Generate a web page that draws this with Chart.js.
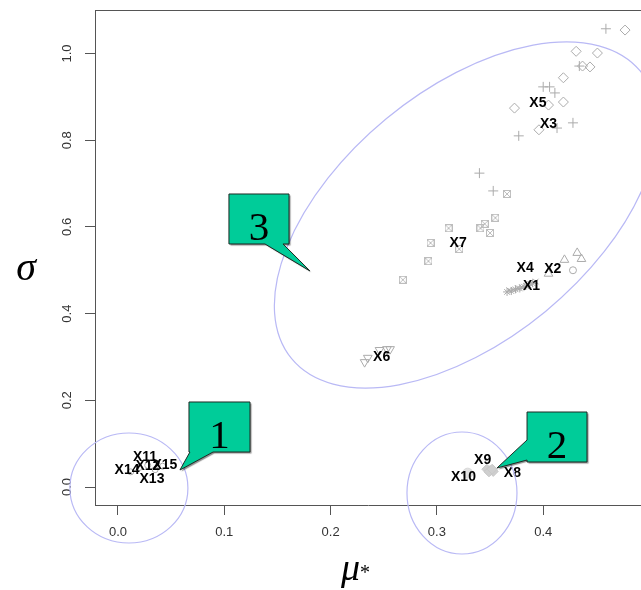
<!DOCTYPE html>
<html><head><meta charset="utf-8">
<script src="https://cdn.jsdelivr.net/npm/chart.js@4.4.1/dist/chart.umd.min.js"></script>
<style>html,body{margin:0;padding:0;background:#fff;overflow:hidden}canvas{display:block}</style>
</head><body>
<canvas id="c" width="641" height="590"></canvas>
<script>
// ---- data (mu*, sigma) ----
const xTicks = [0.0, 0.1, 0.2, 0.3, 0.4];
const yTicks = [0.0, 0.2, 0.4, 0.6, 0.8, 1.0];

const muX5  = [0.477, 0.431, 0.451, 0.437, 0.444, 0.419, 0.419, 0.373, 0.396, 0.405];
const sigX5 = [1.054, 1.005, 1.001, 0.971, 0.969, 0.944, 0.888, 0.874, 0.824, 0.881];

const muX3  = [0.459, 0.434, 0.400, 0.406, 0.411, 0.428, 0.377, 0.413, 0.340, 0.353];
const sigX3 = [1.057, 0.971, 0.923, 0.923, 0.909, 0.840, 0.810, 0.828, 0.724, 0.683];

const muX7  = [0.268, 0.292, 0.294, 0.311, 0.321, 0.341, 0.345, 0.350, 0.355, 0.366];
const sigX7 = [0.478, 0.521, 0.563, 0.597, 0.549, 0.597, 0.607, 0.586, 0.621, 0.676];

const muX1  = [0.366, 0.370, 0.374, 0.378, 0.382, 0.386, 0.390];
const sigX1 = [0.450, 0.452, 0.456, 0.458, 0.462, 0.466, 0.470];

const muX4  = [0.368, 0.372, 0.376, 0.380, 0.384, 0.388, 0.393];
const sigX4 = [0.454, 0.455, 0.459, 0.461, 0.464, 0.468, 0.474];

const muX2  = [0.420, 0.432, 0.436, 0.405];
const sigX2 = [0.524, 0.540, 0.526, 0.492];
const muX2o  = [0.428];
const sigX2o = [0.500];

const muX6  = [0.232, 0.235, 0.246, 0.253, 0.256];
const sigX6 = [0.288, 0.298, 0.316, 0.318, 0.318];

const muX89  = [0.347, 0.350, 0.353, 0.349, 0.352];
const sigX89 = [0.041, 0.038, 0.036, 0.035, 0.041];
const muX10  = [0.329];
const sigX10 = [0.032];

const muLow  = [0.012, 0.020, 0.028, 0.035, 0.042];
const sigLow = [0.035, 0.045, 0.050, 0.040, 0.048];

const labelNames = ['X1','X2','X3','X4','X5','X6','X7','X8','X9','X10','X11','X12','X13','X14','X15'];
const labelMu    = [0.389,0.409,0.405,0.383,0.395,0.248,0.320,0.371,0.343,0.325,0.0254,0.0282,0.032,0.0085,0.0442];
const labelSigma = [0.464,0.503,0.837,0.505,0.886,0.300,0.563,0.032,0.062,0.023,0.0692,0.0484,0.0185,0.0392,0.0507];

// ---- annotations (ellipses and callouts, in data units) ----
const rings = [
  {mu:0.0103, sigma:-0.0023, rx:59, ry:55, rot:0},
  {mu:0.3236, sigma:-0.0138, rx:55, ry:61, rot:0},
  {mu:0.3274, sigma:0.6275, rx:226, ry:125, rot:-39.5}
];
const callouts = [
  {text:'1', x1:0.0668, x2:0.1242, yTop:0.1961, yBot:0.0807, tip:[0.0583,0.0392], side:'bottom', base:[0.0677,0.0894]},
  {text:'2', x1:0.3848, x2:0.4412, yTop:0.1730, yBot:0.0577, tip:[0.3565,0.0438], side:'left', base:[0.1084,0.0623]},
  {text:'3', x1:0.1044, x2:0.1609, yTop:0.6759, yBot:0.5606, tip:[0.1806,0.4983], side:'bottom', base:[0.1383,0.1552]}
];

const pts = (m, s) => m.map((v, i) => ({x: v, y: s[i]}));

function boxX(size, color) {
  const c = document.createElement('canvas');
  c.width = c.height = size;
  const g = c.getContext('2d');
  g.strokeStyle = color; g.lineWidth = 1;
  g.strokeRect(0.5, 0.5, size - 1, size - 1);
  g.beginPath();
  g.moveTo(1, 1); g.lineTo(size - 1, size - 1);
  g.moveTo(size - 1, 1); g.lineTo(1, size - 1);
  g.stroke();
  return c;
}

const G = '#ababab';
const base = {showLine:false, backgroundColor:'rgba(0,0,0,0)', borderColor:G, pointBorderColor:G, pointBackgroundColor:'rgba(0,0,0,0)', pointBorderWidth:1};

const datasets = [
  {...base, label:'X5', data:pts(muX5, sigX5), pointStyle:'rectRot', pointRadius:5},
  {...base, label:'X3', data:pts(muX3, sigX3), pointStyle:'cross', pointRadius:5},
  {...base, label:'X7', data:pts(muX7, sigX7), pointStyle:boxX(8, '#bdbdbd'), pointRadius:4},
  {...base, label:'X1', data:pts(muX1, sigX1), pointStyle:'star', pointRadius:4},
  {...base, label:'X4', data:pts(muX4, sigX4), pointStyle:'crossRot', pointRadius:4},
  {...base, label:'X2', data:pts(muX2, sigX2), pointStyle:'triangle', pointRadius:5},
  {...base, label:'X2o', data:pts(muX2o, sigX2o), pointStyle:'circle', pointRadius:3.5},
  {...base, label:'X6', data:pts(muX6, sigX6), pointStyle:'triangle', pointRotation:180, pointRadius:5},
  {...base, label:'X8-X9', data:pts(muX89, sigX89), pointStyle:'rectRot', pointRadius:5, pointBackgroundColor:'#cfcfcf', pointBorderColor:'#c8c8c8'},
  {...base, label:'X10', data:pts(muX10, sigX10), pointStyle:'circle', pointRadius:5, pointBackgroundColor:'#e2e2e2', pointBorderColor:'#d8d8d8'},
  {...base, label:'X11-X15', data:pts(muLow, sigLow), pointStyle:'circle', pointRadius:3},
  {label:'names', data:pts(labelMu, labelSigma), showLine:false, pointRadius:0}
];
const NAMES_IDX = datasets.length - 1;

const overlay = {
  id: 'overlay',
  afterDatasetsDraw(chart) {
    const {ctx, chartArea: a, scales: {x, y}} = chart;
    ctx.save();
    // top frame line
    ctx.strokeStyle = '#555'; ctx.lineWidth = 1;
    ctx.beginPath(); ctx.moveTo(a.left, Math.round(a.top) + 0.5); ctx.lineTo(a.right, Math.round(a.top) + 0.5); ctx.stroke();

    // factor labels
    const meta = chart.getDatasetMeta(NAMES_IDX);
    ctx.font = 'bold 14px "Liberation Sans", Arial, sans-serif';
    ctx.fillStyle = '#000'; ctx.textAlign = 'center'; ctx.textBaseline = 'middle';
    meta.data.forEach((el, i) => ctx.fillText(labelNames[i], el.x, el.y));

    // ellipses
    ctx.strokeStyle = '#b9b9f5'; ctx.lineWidth = 1.2;
    rings.forEach(r => {
      ctx.beginPath();
      ctx.ellipse(x.getPixelForValue(r.mu), y.getPixelForValue(r.sigma), r.rx, r.ry, r.rot * Math.PI / 180, 0, Math.PI * 2);
      ctx.stroke();
    });

    // callouts
    callouts.forEach(c => {
      const L = x.getPixelForValue(c.x1), R = x.getPixelForValue(c.x2);
      const T = y.getPixelForValue(c.yTop), B = y.getPixelForValue(c.yBot);
      const tx = x.getPixelForValue(c.tip[0]), ty = y.getPixelForValue(c.tip[1]);
      ctx.beginPath();
      if (c.side === 'bottom') {
        const b1 = x.getPixelForValue(c.base[0]), b2 = x.getPixelForValue(c.base[1]);
        ctx.moveTo(L, T); ctx.lineTo(R, T); ctx.lineTo(R, B); ctx.lineTo(b2, B);
        ctx.lineTo(tx, ty); ctx.lineTo(b1, B); ctx.lineTo(L, B); ctx.closePath();
      } else {
        const b1 = y.getPixelForValue(c.base[0]), b2 = y.getPixelForValue(c.base[1]);
        ctx.moveTo(L, T); ctx.lineTo(R, T); ctx.lineTo(R, B); ctx.lineTo(L, B);
        ctx.lineTo(L, b2); ctx.lineTo(tx, ty); ctx.lineTo(L, b1); ctx.closePath();
      }
      ctx.save();
      ctx.shadowColor = 'rgba(0,0,0,0.45)'; ctx.shadowOffsetX = 1.5; ctx.shadowOffsetY = 1.5; ctx.shadowBlur = 1;
      ctx.fillStyle = '#00cc99'; ctx.fill();
      ctx.restore();
      ctx.strokeStyle = '#1e2a24'; ctx.lineWidth = 1; ctx.stroke();
      ctx.fillStyle = '#000';
      ctx.font = '41px "Liberation Serif", "Times New Roman", serif';
      ctx.textAlign = 'center'; ctx.textBaseline = 'alphabetic';
      ctx.fillText(c.text, (L + R) / 2, B - 4);
    });

    // axis titles
    ctx.fillStyle = '#000';
    ctx.font = 'italic 40px "Liberation Serif", "Times New Roman", serif';
    ctx.textAlign = 'center'; ctx.textBaseline = 'alphabetic';
    ctx.fillText('\u03C3', 26, 280);
    ctx.textAlign = 'left';
    ctx.font = 'italic 38px "Liberation Serif", "Times New Roman", serif';
    ctx.fillText('\u03BC', 341, 580);
    const w = ctx.measureText('\u03BC').width;
    ctx.font = '20px "Liberation Serif", "Times New Roman", serif';
    ctx.fillText('*', 341 + w, 579);
    ctx.restore();
  }
};

const tickFont = {family: '"Liberation Sans", Arial, sans-serif', size: 13};
const noPad = s => { s.paddingLeft = 0; s.paddingRight = 0; s.paddingTop = 0; s.paddingBottom = 0; };

new Chart(document.getElementById('c'), {
  type: 'scatter',
  data: {datasets},
  options: {
    responsive: false, animation: false, events: [],
    plugins: {legend: {display: false}, tooltip: {enabled: false}},
    layout: {autoPadding: false, padding: {top: 10, right: 0, left: 0, bottom: 0}},
    scales: {
      x: {
        type: 'linear', min: -0.0216, max: 0.492,
        afterBuildTicks: s => { s.ticks = xTicks.map(v => ({value: v})); },
        afterFit: s => { s.height = 85; noPad(s); },
        grid: {drawOnChartArea: false, drawTicks: true, tickLength: 10, color: '#555'},
        border: {display: true, color: '#555', width: 1},
        ticks: {padding: 10, color: '#333', font: tickFont, maxRotation: 0, autoSkip: false, callback: v => Number(v).toFixed(1)}
      },
      y: {
        type: 'linear', min: -0.0415, max: 1.1003,
        afterBuildTicks: s => { s.ticks = yTicks.map(v => ({value: v})); },
        afterFit: s => { s.width = 95; noPad(s); },
        grid: {drawOnChartArea: false, drawTicks: true, tickLength: 10, color: '#555'},
        border: {display: true, color: '#555', width: 1},
        ticks: {padding: 9, color: '#333', font: tickFont, minRotation: 90, maxRotation: 90, crossAlign: 'center', autoSkip: false, callback: v => Number(v).toFixed(1)}
      }
    }
  },
  plugins: [overlay]
});
</script>
</body></html>
